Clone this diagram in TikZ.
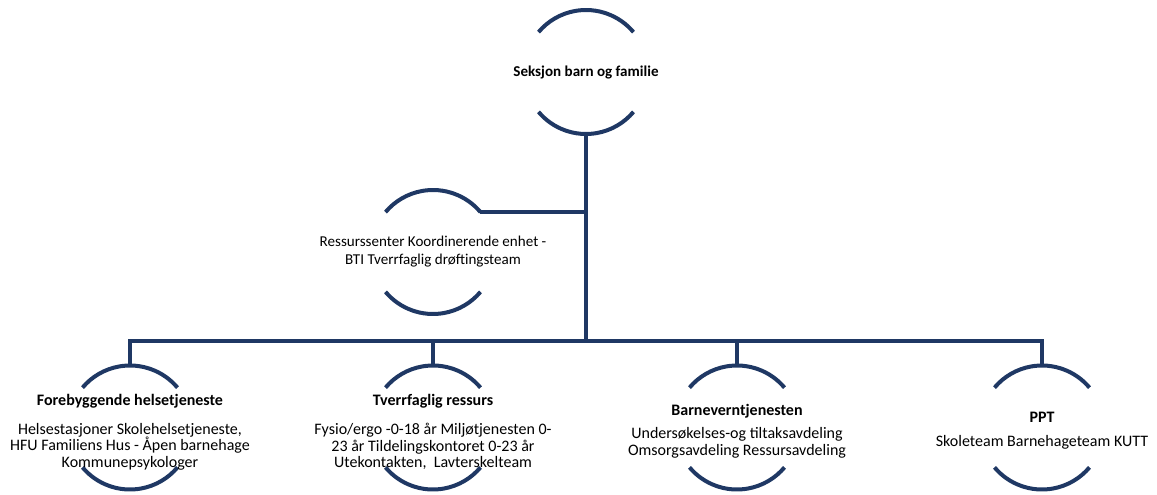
\documentclass[tikz,border=0pt]{standalone}
\usepackage{fontspec}
\setmainfont{Carlito}
\usepackage{tikz}
\usetikzlibrary{positioning}
\definecolor{navy}{HTML}{1F3864}
\newcommand\orbit[1]{%
  \draw[ring] (#1.40) arc[start angle=40, end angle=140, radius=46.5pt];
  \draw[ring] (#1.220) arc[start angle=220, end angle=320, radius=46.5pt];}

\begin{document}
\begin{tikzpicture}[x=0.75pt, y=0.75pt,
    ring/.style={draw=navy, line width=3pt},
    unit/.style={circle, minimum size=93pt, inner sep=0pt, outer sep=0pt},
    unittext/.style={align=center, font=\fontsize{11.3}{13.5}\selectfont},
    leaftext/.style={align=center, font=\fontsize{12}{12.5}\selectfont, yshift=-2.5pt}]
                \useasboundingbox (0,0) rectangle (1157,494);
                \node [unit] (seksjon) at (586,422) {};
                \node [unit] (ressurs) at (433,242) {};
                \node [unit] (forebygg) at (130,66.5) {};
                \node [unit] (tverr) at (433,66.5) {};
                \node [unit] (barnevern) at (737,66.5) {};
                \node [unit] (ppt) at (1042,66.5) {};
                \coordinate (bus) at (586,153);
                \foreach \n in {seksjon,ressurs,forebygg,tverr,barnevern,ppt} {\orbit{\n}}
                \node [unittext] (seksjon-txt) at (seksjon) {\bfseries Seksjon barn og familie};
                \node [unittext] (ressurs-txt) at (ressurs) {Ressurssenter Koordinerende enhet -\\BTI Tverrfaglig drøftingsteam};
                \node [leaftext, yshift=-1pt] (forebygg-txt) at (forebygg) {\textbf{Forebyggende helsetjeneste}\\[9pt]Helsestasjoner Skolehelsetjeneste,\\HFU Familiens Hus - Åpen barnehage\\Kommunepsykologer};
                \node [leaftext, yshift=-1pt] (tverr-txt) at (tverr) {\textbf{Tverrfaglig ressurs}\\[9pt]Fysio/ergo -0-18 år Miljøtjenesten 0-\\23 år Tildelingskontoret 0-23 år\\Utekontakten,\ \ Lavterskelteam};
                \node [leaftext] (barnevern-txt) at (barnevern) {\textbf{Barneverntjenesten}\\[5pt]Undersøkelses-og tiltaksavdeling\\Omsorgsavdeling Ressursavdeling};
                \node [leaftext] (ppt-txt) at (ppt) {\textbf{PPT}\\[5pt]Skoleteam Barnehageteam KUTT};
                \draw [ring] (seksjon.south) -- (seksjon.south |- bus);
                \draw [ring] (ressurs.40) -- (ressurs.40 -| seksjon.south);
                \draw [ring] (forebygg.north) -- (forebygg.north |- bus) -- (ppt.north |- bus) -- (ppt.north);
                \draw [ring] (tverr.north) -- (tverr.north |- bus) (barnevern.north) -- (barnevern.north |- bus);
            \end{tikzpicture}
\end{document}
